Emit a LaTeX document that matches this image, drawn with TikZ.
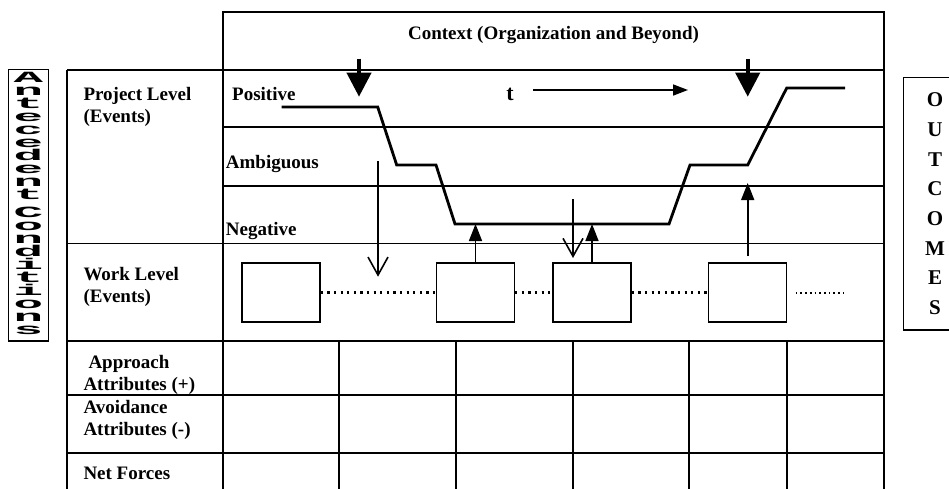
\documentclass[tikz,border=0pt]{standalone}
\usepackage{fontspec}
\setmainfont{Liberation Serif}
\newfontfamily\antfont{Liberation Mono}
\usepackage{graphicx}
\usetikzlibrary{arrows.meta}
\tikzset{
  gridline/.style={draw=black, line width=1.9pt},
  levelcurve/.style={draw=black, line width=2.8pt, line join=miter},
  workbox/.style={draw=black, line width=1.5pt, minimum width=78pt, minimum height=59pt, inner sep=0pt},
  dotline/.style={draw=black, line width=2.2pt, dash pattern=on 2.2pt off 4.4pt},
  densedots/.style={draw=black, line width=2pt, dash pattern=on 1.7pt off 3pt},
  bigarrow/.style={-{Triangle[length=24pt,width=24pt]}, draw=black, line width=4pt},
  timearrow/.style={-{Triangle[length=15pt,width=11pt]}, draw=black, line width=1.6pt},
  uparrow/.style={-{Triangle[length=17pt,width=13pt]}, draw=black, line width=1.6pt},
  downarrow/.style={-{Straight Barb[length=18pt,width=20pt]}, draw=black, line width=1.6pt},
  rowlabel/.style={anchor=north west, inner sep=0pt, align=left, font=\fontsize{19}{22.5}\selectfont\bfseries},
  levellabel/.style={anchor=base west, inner sep=0pt, font=\fontsize{19}{22}\selectfont\bfseries},
  antstack/.style={anchor=north, inner sep=0pt, font=\fontsize{12}{10}\selectfont\antfont\bfseries},
  outbox/.style={draw=black, line width=1.5pt, align=center, inner sep=0pt, font=\fontsize{21}{29.7}\selectfont\bfseries}
}

\begin{document}
\begin{tikzpicture}[x=1pt,y=-1pt]
  \useasboundingbox (0,0) rectangle (949,488);
  \clip (0,0) rectangle (949,488);

  % table frame
  \draw[gridline] (222.7,495) -- (222.7,12) -- (884,12) -- (884,495);
  \draw[gridline] (67,495) -- (67,70);
  \foreach \yy in {70,243.5,341,395,453}
    \draw[gridline] (67,\yy) -- (884,\yy);
  \foreach \yy in {127,186}
    \draw[gridline] (222.7,\yy) -- (884,\yy);
  \foreach \xx in {339,456,572.7,689,786.7}
    \draw[gridline] (\xx,341) -- (\xx,495);

  % labels
  \node[anchor=base, inner sep=0pt, font=\fontsize{19}{22}\selectfont\bfseries] (context) at (553.5,39) {Context (Organization and Beyond)};
  \node[rowlabel] (projlbl) at (83.3,87) {Project Level\\(Events)};
  \node[rowlabel] (worklbl) at (83.3,267) {Work Level\\(Events)};
  \node[rowlabel] (applbl) at (83.3,355) {\hspace{5pt}Approach\\Attributes (+)};
  \node[rowlabel] (avolbl) at (83.3,400) {Avoidance\\Attributes (-)};
  \node[rowlabel] (netlbl) at (83.3,467) {Net Forces};
  \node[levellabel] (poslbl) at (232,100) {Positive};
  \node[levellabel] (amblbl) at (225.7,168) {Ambiguous};
  \node[levellabel] (neglbl) at (225.7,235) {Negative};
  \node[anchor=base, inner sep=0pt, font=\fontsize{22}{22}\selectfont\bfseries] (tlbl) at (510,100) {t};

  % side boxes
  \node[draw=black, line width=1.5pt, minimum width=40pt, minimum height=271.7pt, inner sep=0pt] (antbox) at (28.3,205.2) {};
  \node[antstack] (antlbl) at (28.3,72) {\scalebox{4.1}[1.3]{\parbox{1em}{\centering
    A\\n\\t\\e\\c\\e\\d\\e\\n\\t\\[4.2pt]C\\o\\n\\d\\i\\t\\i\\o\\n\\s}}};
  \node[outbox, minimum width=63.4pt, minimum height=252.7pt] (outcomes) at (935,203.7) {O\\U\\T\\C\\O\\M\\E\\S};

  % work level events
  \node[workbox] (w1) at (281,292.5) {};
  \node[workbox] (w2) at (475.5,292.5) {};
  \node[workbox] (w3) at (592,292.5) {};
  \node[workbox] (w4) at (747.7,292.5) {};
  \coordinate (tailend) at (847,292.5);
  \draw[dotline] (w1.east) -- (w2.west);
  \draw[dotline] (w2.east) -- (w3.west);
  \draw[dotline] (w3.east) -- (w4.west);
  \draw[densedots, shorten <=8.3pt] (w4.east) -- (tailend);

  % project level path
  \coordinate (negL) at (455,224);
  \draw[levelcurve] (281.7,107) -- (377.7,107) -- (396.7,165) -- (436,165) -- (negL)
    -- (669,224) -- (690,165) -- (747.7,165) -- (786.7,88) -- (845,88);

  % context influences
  \coordinate (ctx1) at (359,58.7);
  \coordinate (ctx1e) at (359,96.7);
  \coordinate (ctx2) at (747.7,58.7);
  \coordinate (ctx2e) at (747.7,96.7);
  \draw[bigarrow] (ctx1) -- (ctx1e);
  \draw[bigarrow] (ctx2) -- (ctx2e);

  % time
  \coordinate (tstart) at (533,90);
  \coordinate (tend) at (688,90);
  \draw[timearrow] (tstart) -- (tend);

  % downward and upward influences
  \coordinate (dn1) at (378,161);
  \coordinate (dn1e) at (378,276.7);
  \coordinate (dn2) at (573,199);
  \coordinate (dn2e) at (573,258);
  \coordinate (up4e) at (747.7,183);
  \draw[downarrow] (dn1) -- (dn1e);
  \draw[downarrow] (dn2) -- (dn2e);
  \draw[uparrow] (w2.north) -- (w2.north |- negL);
  \draw[uparrow] (w3.north) -- (w3.north |- negL);
  \draw[uparrow] ([yshift=6pt]w4.north) -- (up4e);
\end{tikzpicture}
\end{document}
